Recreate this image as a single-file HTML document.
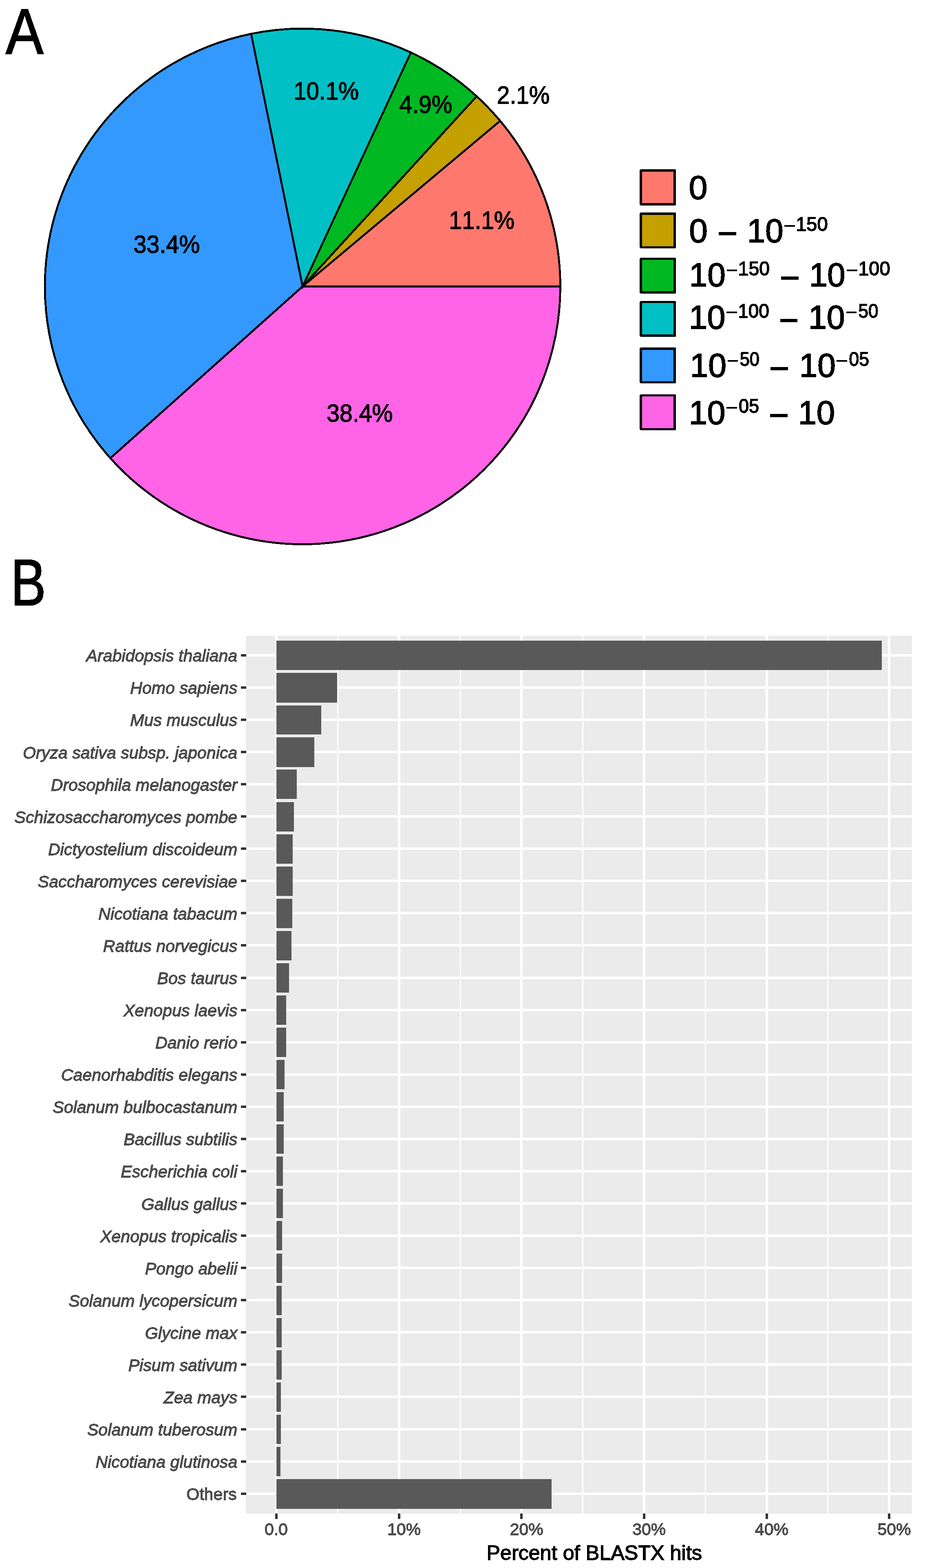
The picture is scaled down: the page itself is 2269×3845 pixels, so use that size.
<!DOCTYPE html>
<html lang="en"><head><meta charset="utf-8"><title>BLASTX hits: E-value distribution and species distribution</title>
<style>
html,body{margin:0;padding:0;background:#fff}
body{width:2269px;height:3845px}
svg{display:block;font-family:'Liberation Sans', sans-serif}
text{white-space:pre;stroke-linejoin:miter;stroke-miterlimit:3;filter:url(#crisp)}
</style></head><body>
<svg width="2269" height="3845" viewBox="0 0 2269 3845">
<defs><filter id="crisp" x="-5%" y="-20%" width="110%" height="140%" color-interpolation-filters="sRGB"><feComponentTransfer><feFuncA type="discrete" tableValues="0 1"/></feComponentTransfer></filter></defs>
<rect width="2269" height="3845" fill="#fff"/>
<g stroke="#000" stroke-width="4.80" stroke-linejoin="miter" shape-rendering="crispEdges">
<path d="M742.30 702.40L1374.50 702.40A632.20 632.20 0 0 1 270.72 1123.45Z" fill="#FF63E6"/>
<path d="M742.30 702.40L270.72 1123.45A632.20 632.20 0 0 1 616.04 82.94Z" fill="#3399FF"/>
<path d="M742.30 702.40L616.04 82.94A632.20 632.20 0 0 1 1007.88 128.69Z" fill="#00C0C5"/>
<path d="M742.30 702.40L1007.88 128.69A632.20 632.20 0 0 1 1169.25 236.14Z" fill="#00B822"/>
<path d="M742.30 702.40L1169.25 236.14A632.20 632.20 0 0 1 1226.88 296.37Z" fill="#C4A000"/>
<path d="M742.30 702.40L1226.88 296.37A632.20 632.20 0 0 1 1374.50 702.40Z" fill="#FF786E"/>
</g>
<g>
<text transform="matrix(0.9303 0 0 1.0000 720.06 244.35)" font-size="60.80" style="font-kerning:none" fill="#000" stroke="#000" stroke-width="1.50">10.1%</text>
<text transform="matrix(0.9435 0 0 1.0000 327.60 620.45)" font-size="60.80" style="font-kerning:none" fill="#000" stroke="#000" stroke-width="1.50">33.4%</text>
<text transform="matrix(0.9405 0 0 1.0000 801.30 1033.55)" font-size="60.80" style="font-kerning:none" fill="#000" stroke="#000" stroke-width="1.50">38.4%</text>
<text transform="matrix(0.9333 0 0 1.0000 1101.34 560.55)" font-size="60.80" style="font-kerning:none" fill="#000" stroke="#000" stroke-width="1.50">11.1%</text>
<text transform="matrix(0.9379 0 0 1.0000 979.46 276.55)" font-size="60.80" style="font-kerning:none" fill="#000" stroke="#000" stroke-width="1.50">4.9%</text>
<text transform="matrix(0.9358 0 0 1.0000 1218.66 253.55)" font-size="60.80" style="font-kerning:none" fill="#000" stroke="#000" stroke-width="1.50">2.1%</text>
</g>
<text transform="matrix(0.8758 0 0 0.9942 13.89 131.87)" font-size="158.50" fill="#000" stroke="#000" stroke-width="2.50">A</text>
<text transform="matrix(0.8145 0 0 1.0227 26.49 1484.32)" font-size="158.50" fill="#000" stroke="#000" stroke-width="2.50">B</text>
<g shape-rendering="crispEdges">
<path d="M1571 415H1656L1658 417V502L1656 504H1571L1569 502V417Z" fill="#000"/>
<rect x="1575" y="421" width="77" height="77" fill="#FF786E"/>
<path d="M1571 521H1656L1658 523V607L1656 609H1571L1569 607V523Z" fill="#000"/>
<rect x="1575" y="527" width="77" height="77" fill="#C4A000"/>
<path d="M1571 632H1656L1658 634V718L1656 720H1571L1569 718V634Z" fill="#000"/>
<rect x="1575" y="637" width="77" height="77" fill="#00B822"/>
<path d="M1571 738H1656L1658 740V824L1656 826H1571L1569 824V740Z" fill="#000"/>
<rect x="1575" y="743" width="77" height="77" fill="#00C0C5"/>
<path d="M1571 852H1656L1658 854V938L1656 940H1571L1569 938V854Z" fill="#000"/>
<rect x="1575" y="858" width="77" height="77" fill="#3399FF"/>
<path d="M1571 967H1656L1658 969V1053L1656 1055H1571L1569 1053V969Z" fill="#000"/>
<rect x="1575" y="972" width="77" height="78" fill="#FF63E6"/>
</g>
<g>
<text fill="#000" stroke="#000"><tspan x="1689.63" y="487.90" font-size="82.10" stroke-width="2.00" textLength="45.64" lengthAdjust="spacingAndGlyphs">0</tspan></text>
<text fill="#000" stroke="#000"><tspan x="1690.23" y="593.60" font-size="82.10" stroke-width="2.00" textLength="45.64" lengthAdjust="spacingAndGlyphs">0</tspan> <tspan x="1760.25" y="600.30" font-size="82.10" stroke-width="2.00" textLength="48.61" lengthAdjust="spacingAndGlyphs">−</tspan> <tspan x="1832.71" y="593.60" font-size="82.10" stroke-width="2.00" textLength="88.88" lengthAdjust="spacingAndGlyphs">10</tspan><tspan x="1922.01" y="570.04" font-size="48.40" stroke-width="1.00" textLength="29.73" lengthAdjust="spacingAndGlyphs">−</tspan><tspan x="1952.28" y="566.40" font-size="48.40" stroke-width="1.80" textLength="78.32" lengthAdjust="spacingAndGlyphs">150</tspan></text>
<text fill="#000" stroke="#000"><tspan x="1690.78" y="702.30" font-size="82.10" stroke-width="2.00" textLength="89.22" lengthAdjust="spacingAndGlyphs">10</tspan><tspan x="1780.51" y="678.74" font-size="48.40" stroke-width="1.00" textLength="29.73" lengthAdjust="spacingAndGlyphs">−</tspan><tspan x="1810.82" y="675.10" font-size="48.40" stroke-width="1.80" textLength="77.35" lengthAdjust="spacingAndGlyphs">150</tspan> <tspan x="1912.70" y="709.00" font-size="82.10" stroke-width="2.00" textLength="49.31" lengthAdjust="spacingAndGlyphs">−</tspan> <tspan x="1985.14" y="702.30" font-size="82.10" stroke-width="2.00" textLength="88.44" lengthAdjust="spacingAndGlyphs">10</tspan><tspan x="2074.81" y="678.74" font-size="48.40" stroke-width="1.00" textLength="29.73" lengthAdjust="spacingAndGlyphs">−</tspan><tspan x="2105.07" y="675.10" font-size="48.40" stroke-width="1.80" textLength="78.53" lengthAdjust="spacingAndGlyphs">100</tspan></text>
<text fill="#000" stroke="#000"><tspan x="1689.65" y="806.00" font-size="82.10" stroke-width="2.00" textLength="89.66" lengthAdjust="spacingAndGlyphs">10</tspan><tspan x="1779.81" y="782.44" font-size="48.40" stroke-width="1.00" textLength="29.73" lengthAdjust="spacingAndGlyphs">−</tspan><tspan x="1810.16" y="778.80" font-size="48.40" stroke-width="1.80" textLength="76.60" lengthAdjust="spacingAndGlyphs">100</tspan> <tspan x="1910.96" y="812.70" font-size="82.10" stroke-width="2.00" textLength="48.49" lengthAdjust="spacingAndGlyphs">−</tspan> <tspan x="1983.28" y="806.00" font-size="82.10" stroke-width="2.00" textLength="89.33" lengthAdjust="spacingAndGlyphs">10</tspan><tspan x="2073.41" y="782.44" font-size="48.40" stroke-width="1.00" textLength="29.73" lengthAdjust="spacingAndGlyphs">−</tspan><tspan x="2105.44" y="778.80" font-size="48.40" stroke-width="1.80" textLength="48.95" lengthAdjust="spacingAndGlyphs">50</tspan></text>
<text fill="#000" stroke="#000"><tspan x="1692.48" y="924.40" font-size="82.10" stroke-width="2.00" textLength="89.33" lengthAdjust="spacingAndGlyphs">10</tspan><tspan x="1782.61" y="900.84" font-size="48.40" stroke-width="1.00" textLength="29.73" lengthAdjust="spacingAndGlyphs">−</tspan><tspan x="1814.67" y="897.20" font-size="48.40" stroke-width="1.80" textLength="48.20" lengthAdjust="spacingAndGlyphs">50</tspan> <tspan x="1886.73" y="931.10" font-size="82.10" stroke-width="2.00" textLength="48.96" lengthAdjust="spacingAndGlyphs">−</tspan> <tspan x="1960.58" y="924.40" font-size="82.10" stroke-width="2.00" textLength="89.22" lengthAdjust="spacingAndGlyphs">10</tspan><tspan x="2050.31" y="900.84" font-size="48.40" stroke-width="1.00" textLength="29.73" lengthAdjust="spacingAndGlyphs">−</tspan><tspan x="2082.55" y="897.20" font-size="48.40" stroke-width="1.80" textLength="49.38" lengthAdjust="spacingAndGlyphs">05</tspan></text>
<text fill="#000" stroke="#000"><tspan x="1689.65" y="1039.60" font-size="82.10" stroke-width="2.00" textLength="89.66" lengthAdjust="spacingAndGlyphs">10</tspan><tspan x="1779.81" y="1016.04" font-size="48.40" stroke-width="1.00" textLength="29.73" lengthAdjust="spacingAndGlyphs">−</tspan><tspan x="1812.03" y="1012.40" font-size="48.40" stroke-width="1.80" textLength="50.02" lengthAdjust="spacingAndGlyphs">05</tspan> <tspan x="1885.70" y="1046.30" font-size="82.10" stroke-width="2.00" textLength="49.31" lengthAdjust="spacingAndGlyphs">−</tspan> <tspan x="1958.02" y="1039.60" font-size="82.10" stroke-width="2.00" textLength="90.10" lengthAdjust="spacingAndGlyphs">10</tspan></text>
</g>
<rect x="603" y="1559" width="1634" height="2153" fill="#EBEBEB"/>
<g fill="#fff">
<rect x="827" y="1559" width="3" height="2153"/>
<rect x="1128" y="1559" width="3" height="2153"/>
<rect x="1428" y="1559" width="3" height="2153"/>
<rect x="1729" y="1559" width="3" height="2153"/>
<rect x="2029" y="1559" width="3" height="2153"/>
<rect x="675" y="1559" width="6" height="2153"/>
<rect x="976" y="1559" width="6" height="2153"/>
<rect x="1276" y="1559" width="6" height="2153"/>
<rect x="1577" y="1559" width="6" height="2153"/>
<rect x="1878" y="1559" width="6" height="2153"/>
<rect x="2178" y="1559" width="6" height="2153"/>
<rect x="603" y="1604" width="1634" height="6"/>
<rect x="603" y="1683" width="1634" height="6"/>
<rect x="603" y="1762" width="1634" height="6"/>
<rect x="603" y="1841" width="1634" height="6"/>
<rect x="603" y="1920" width="1634" height="6"/>
<rect x="603" y="1999" width="1634" height="6"/>
<rect x="603" y="2078" width="1634" height="6"/>
<rect x="603" y="2157" width="1634" height="6"/>
<rect x="603" y="2236" width="1634" height="6"/>
<rect x="603" y="2315" width="1634" height="6"/>
<rect x="603" y="2395" width="1634" height="6"/>
<rect x="603" y="2474" width="1634" height="6"/>
<rect x="603" y="2553" width="1634" height="6"/>
<rect x="603" y="2632" width="1634" height="6"/>
<rect x="603" y="2711" width="1634" height="6"/>
<rect x="603" y="2790" width="1634" height="6"/>
<rect x="603" y="2869" width="1634" height="6"/>
<rect x="603" y="2948" width="1634" height="6"/>
<rect x="603" y="3027" width="1634" height="6"/>
<rect x="603" y="3106" width="1634" height="6"/>
<rect x="603" y="3185" width="1634" height="6"/>
<rect x="603" y="3264" width="1634" height="6"/>
<rect x="603" y="3343" width="1634" height="6"/>
<rect x="603" y="3422" width="1634" height="6"/>
<rect x="603" y="3502" width="1634" height="6"/>
<rect x="603" y="3581" width="1634" height="6"/>
<rect x="603" y="3660" width="1634" height="6"/>
</g>
<g fill="#595959">
<rect x="678" y="1571" width="1485" height="72"/>
<rect x="678" y="1650" width="149" height="73"/>
<rect x="678" y="1730" width="110" height="71"/>
<rect x="678" y="1808" width="93" height="73"/>
<rect x="678" y="1887" width="50" height="72"/>
<rect x="678" y="1967" width="43" height="72"/>
<rect x="678" y="2046" width="40" height="72"/>
<rect x="678" y="2125" width="40" height="72"/>
<rect x="678" y="2204" width="39" height="72"/>
<rect x="678" y="2283" width="37" height="72"/>
<rect x="678" y="2362" width="31" height="72"/>
<rect x="678" y="2441" width="24" height="72"/>
<rect x="678" y="2520" width="24" height="72"/>
<rect x="678" y="2599" width="20" height="72"/>
<rect x="678" y="2678" width="18" height="72"/>
<rect x="678" y="2757" width="18" height="72"/>
<rect x="678" y="2836" width="16" height="72"/>
<rect x="678" y="2915" width="16" height="72"/>
<rect x="678" y="2994" width="14" height="72"/>
<rect x="678" y="3074" width="14" height="72"/>
<rect x="678" y="3153" width="13" height="72"/>
<rect x="678" y="3232" width="13" height="72"/>
<rect x="678" y="3311" width="13" height="72"/>
<rect x="678" y="3390" width="11" height="72"/>
<rect x="678" y="3469" width="11" height="72"/>
<rect x="678" y="3548" width="10" height="72"/>
<rect x="678" y="3627" width="675" height="73"/>
</g>
<g fill="#333">
<rect x="591" y="1604" width="13" height="6"/>
<rect x="591" y="1683" width="13" height="6"/>
<rect x="591" y="1762" width="13" height="6"/>
<rect x="591" y="1841" width="13" height="6"/>
<rect x="591" y="1920" width="13" height="6"/>
<rect x="591" y="1999" width="13" height="6"/>
<rect x="591" y="2078" width="13" height="6"/>
<rect x="591" y="2157" width="13" height="6"/>
<rect x="591" y="2236" width="13" height="6"/>
<rect x="591" y="2315" width="13" height="6"/>
<rect x="591" y="2395" width="13" height="6"/>
<rect x="591" y="2474" width="13" height="6"/>
<rect x="591" y="2553" width="13" height="6"/>
<rect x="591" y="2632" width="13" height="6"/>
<rect x="591" y="2711" width="13" height="6"/>
<rect x="591" y="2790" width="13" height="6"/>
<rect x="591" y="2869" width="13" height="6"/>
<rect x="591" y="2948" width="13" height="6"/>
<rect x="591" y="3027" width="13" height="6"/>
<rect x="591" y="3106" width="13" height="6"/>
<rect x="591" y="3185" width="13" height="6"/>
<rect x="591" y="3264" width="13" height="6"/>
<rect x="591" y="3343" width="13" height="6"/>
<rect x="591" y="3422" width="13" height="6"/>
<rect x="591" y="3502" width="13" height="6"/>
<rect x="591" y="3581" width="13" height="6"/>
<rect x="591" y="3660" width="13" height="6"/>
<rect x="675" y="3711.3" width="6" height="13.5"/>
<rect x="976" y="3711.3" width="6" height="13.5"/>
<rect x="1276" y="3711.3" width="6" height="13.5"/>
<rect x="1577" y="3711.3" width="6" height="13.5"/>
<rect x="1878" y="3711.3" width="6" height="13.5"/>
<rect x="2178" y="3711.3" width="6" height="13.5"/>
</g>
<g>
<text transform="matrix(1.0040 0 0 1.0000 211.58 1622.30)" font-size="41.00" font-style="italic" fill="#4D4D4D" stroke="#4D4D4D" stroke-width="1.40">Arabidopsis thaliana</text>
<text transform="matrix(1.0040 0 0 1.0000 319.18 1701.37)" font-size="41.00" font-style="italic" fill="#4D4D4D" stroke="#4D4D4D" stroke-width="1.40">Homo sapiens</text>
<text transform="matrix(1.0040 0 0 1.0000 319.24 1780.45)" font-size="41.00" font-style="italic" fill="#4D4D4D" stroke="#4D4D4D" stroke-width="1.40">Mus musculus</text>
<text transform="matrix(1.0040 0 0 1.0000 56.05 1859.52)" font-size="41.00" font-style="italic" fill="#4D4D4D" stroke="#4D4D4D" stroke-width="1.40">Oryza sativa subsp. japonica</text>
<text transform="matrix(1.0040 0 0 1.0000 124.67 1938.59)" font-size="41.00" font-style="italic" fill="#4D4D4D" stroke="#4D4D4D" stroke-width="1.40">Drosophila melanogaster</text>
<text transform="matrix(1.0040 0 0 1.0000 35.49 2017.66)" font-size="41.00" font-style="italic" fill="#4D4D4D" stroke="#4D4D4D" stroke-width="1.40">Schizosaccharomyces pombe</text>
<text transform="matrix(1.0040 0 0 1.0000 117.90 2096.74)" font-size="41.00" font-style="italic" fill="#4D4D4D" stroke="#4D4D4D" stroke-width="1.40">Dictyostelium discoideum</text>
<text transform="matrix(1.0040 0 0 1.0000 92.71 2175.81)" font-size="41.00" font-style="italic" fill="#4D4D4D" stroke="#4D4D4D" stroke-width="1.40">Saccharomyces cerevisiae</text>
<text transform="matrix(1.0040 0 0 1.0000 241.37 2254.88)" font-size="41.00" font-style="italic" fill="#4D4D4D" stroke="#4D4D4D" stroke-width="1.40">Nicotiana tabacum</text>
<text transform="matrix(1.0040 0 0 1.0000 252.83 2333.96)" font-size="41.00" font-style="italic" fill="#4D4D4D" stroke="#4D4D4D" stroke-width="1.40">Rattus norvegicus</text>
<text transform="matrix(1.0040 0 0 1.0000 385.52 2413.03)" font-size="41.00" font-style="italic" fill="#4D4D4D" stroke="#4D4D4D" stroke-width="1.40">Bos taurus</text>
<text transform="matrix(1.0040 0 0 1.0000 303.12 2492.10)" font-size="41.00" font-style="italic" fill="#4D4D4D" stroke="#4D4D4D" stroke-width="1.40">Xenopus laevis</text>
<text transform="matrix(1.0040 0 0 1.0000 380.96 2571.18)" font-size="41.00" font-style="italic" fill="#4D4D4D" stroke="#4D4D4D" stroke-width="1.40">Danio rerio</text>
<text transform="matrix(1.0040 0 0 1.0000 149.78 2650.25)" font-size="41.00" font-style="italic" fill="#4D4D4D" stroke="#4D4D4D" stroke-width="1.40">Caenorhabditis elegans</text>
<text transform="matrix(1.0040 0 0 1.0000 129.21 2729.32)" font-size="41.00" font-style="italic" fill="#4D4D4D" stroke="#4D4D4D" stroke-width="1.40">Solanum bulbocastanum</text>
<text transform="matrix(1.0040 0 0 1.0000 303.20 2808.39)" font-size="41.00" font-style="italic" fill="#4D4D4D" stroke="#4D4D4D" stroke-width="1.40">Bacillus subtilis</text>
<text transform="matrix(1.0040 0 0 1.0000 296.32 2887.47)" font-size="41.00" font-style="italic" fill="#4D4D4D" stroke="#4D4D4D" stroke-width="1.40">Escherichia coli</text>
<text transform="matrix(1.0040 0 0 1.0000 346.63 2966.54)" font-size="41.00" font-style="italic" fill="#4D4D4D" stroke="#4D4D4D" stroke-width="1.40">Gallus gallus</text>
<text transform="matrix(1.0040 0 0 1.0000 245.93 3045.61)" font-size="41.00" font-style="italic" fill="#4D4D4D" stroke="#4D4D4D" stroke-width="1.40">Xenopus tropicalis</text>
<text transform="matrix(1.0040 0 0 1.0000 355.72 3124.69)" font-size="41.00" font-style="italic" fill="#4D4D4D" stroke="#4D4D4D" stroke-width="1.40">Pongo abelii</text>
<text transform="matrix(1.0040 0 0 1.0000 168.21 3203.76)" font-size="41.00" font-style="italic" fill="#4D4D4D" stroke="#4D4D4D" stroke-width="1.40">Solanum lycopersicum</text>
<text transform="matrix(1.0040 0 0 1.0000 355.84 3282.83)" font-size="41.00" font-style="italic" fill="#4D4D4D" stroke="#4D4D4D" stroke-width="1.40">Glycine max</text>
<text transform="matrix(1.0040 0 0 1.0000 314.67 3361.91)" font-size="41.00" font-style="italic" fill="#4D4D4D" stroke="#4D4D4D" stroke-width="1.40">Pisum sativum</text>
<text transform="matrix(1.0040 0 0 1.0000 401.58 3440.98)" font-size="41.00" font-style="italic" fill="#4D4D4D" stroke="#4D4D4D" stroke-width="1.40">Zea mays</text>
<text transform="matrix(1.0040 0 0 1.0000 213.91 3520.05)" font-size="41.00" font-style="italic" fill="#4D4D4D" stroke="#4D4D4D" stroke-width="1.40">Solanum tuberosum</text>
<text transform="matrix(1.0040 0 0 1.0000 234.48 3599.12)" font-size="41.00" font-style="italic" fill="#4D4D4D" stroke="#4D4D4D" stroke-width="1.40">Nicotiana glutinosa</text>
<text transform="matrix(1.0040 0 0 1.0000 457.17 3678.20)" font-size="41.00" fill="#4D4D4D" stroke="#4D4D4D" stroke-width="1.40">Others</text>
</g>
<g>
<text transform="matrix(1.0000 0 0 1.0000 648.89 3764.30)" font-size="41.00" fill="#4D4D4D" stroke="#4D4D4D" stroke-width="1.40">0.0</text>
<text transform="matrix(1.0000 0 0 1.0000 950.04 3764.30)" font-size="41.00" fill="#4D4D4D" stroke="#4D4D4D" stroke-width="1.40">10%</text>
<text transform="matrix(1.0000 0 0 1.0000 1250.64 3764.30)" font-size="41.00" fill="#4D4D4D" stroke="#4D4D4D" stroke-width="1.40">20%</text>
<text transform="matrix(1.0000 0 0 1.0000 1551.24 3764.30)" font-size="41.00" fill="#4D4D4D" stroke="#4D4D4D" stroke-width="1.40">30%</text>
<text transform="matrix(1.0000 0 0 1.0000 1851.84 3764.30)" font-size="41.00" fill="#4D4D4D" stroke="#4D4D4D" stroke-width="1.40">40%</text>
<text transform="matrix(1.0000 0 0 1.0000 2152.44 3764.30)" font-size="41.00" fill="#4D4D4D" stroke="#4D4D4D" stroke-width="1.40">50%</text>
</g>
<text transform="matrix(1.0006 0 0 1.0000 1193.37 3824.70)" font-size="50.30" fill="#000" stroke="#000" stroke-width="1.60">Percent of BLASTX hits</text>
</svg>
</body></html>
